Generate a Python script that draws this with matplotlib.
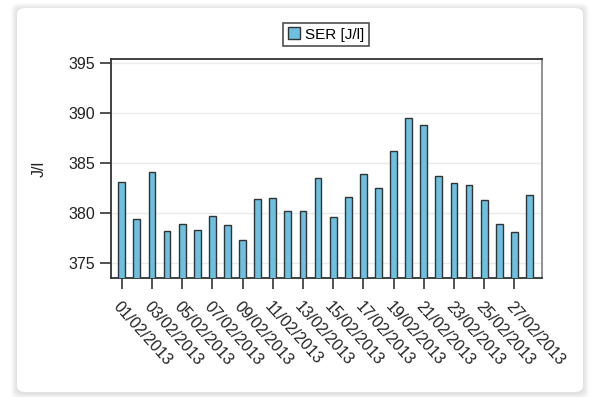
import matplotlib
matplotlib.use("Agg")
from matplotlib import pyplot as plt
from matplotlib.patches import FancyBboxPatch

plt.rcParams["font.family"] = ["Liberation Sans", "DejaVu Sans"]

days = list(range(1, 29))
values = [
    383.1, 379.4, 384.1, 378.2, 378.9, 378.3, 379.7, 378.8, 377.3, 381.4,
    381.5, 380.2, 380.2, 383.5, 379.6, 381.6, 383.9, 382.5, 386.2, 389.5,
    388.8, 383.7, 383.0, 382.8, 381.3, 378.9, 378.1, 381.8,
]
tick_days = list(range(1, 29, 2))
tick_labels = [f"{d:02d}/02/2013" for d in tick_days]
y_ticks = [375, 380, 385, 390, 395]

fig = plt.figure(figsize=(5.9, 3.97), dpi=100)
fig.patch.set_facecolor("white")

# card with a soft shadow behind the chart
for off in range(6, 0, -1):
    shadow = FancyBboxPatch(
        ((17 - off) / 590, (397 - 392 - off - 1) / 397),
        (566 + 2 * off) / 590, (384 + 2 * off) / 397,
        boxstyle="round,pad=0,rounding_size=0.015",
        transform=fig.transFigure, facecolor="black", edgecolor="none",
        alpha=0.018, zorder=0,
    )
    fig.patches.append(shadow)
card = FancyBboxPatch(
    (17 / 590, (397 - 392) / 397), 566 / 590, 384 / 397,
    boxstyle="round,pad=0,rounding_size=0.015",
    transform=fig.transFigure, facecolor="white", edgecolor="none", zorder=1,
)
fig.patches.append(card)

ax = fig.add_axes([0.1876, 0.2990, 0.7316, 0.5516])
ax.set_zorder(2)
ax.bar(days, values, width=0.45, color="#6cc0e0",
       edgecolor="#333333", linewidth=1.0, label="SER [J/l]", zorder=3)

ax.set_xlim(0.27, 28.85)
ax.set_ylim(373.45, 395.35)
ax.set_yticks(y_ticks)
ax.set_xticks(tick_days)
ax.set_xticklabels(tick_labels, rotation=-48, ha="left", va="top",
                   rotation_mode="anchor", fontsize=11.5)
ax.tick_params(axis="both", direction="out", length=8, width=1.2,
               color="#333333", labelsize=11.5, labelcolor="#222222")
ax.tick_params(axis="y", pad=3)
ax.tick_params(axis="x", pad=7)
ax.grid(axis="y", color="#ebebeb", linewidth=1.0, zorder=0)
ax.set_axisbelow(True)
for side in ["left", "bottom", "top"]:
    ax.spines[side].set_color("#333333")
    ax.spines[side].set_linewidth(1.3)
ax.spines["right"].set_color("#888888")
ax.spines["right"].set_linewidth(1.3)

ax.set_ylabel("J/l", fontsize=11.5, labelpad=16, color="#222222")

leg = fig.legend(loc="center", bbox_to_anchor=(0.5525, 0.913), fontsize=11,
                 frameon=True, fancybox=False, handlelength=0.8,
                 handleheight=0.8, handletextpad=0.3, borderpad=0.3,
                 borderaxespad=0)
leg.get_frame().set_edgecolor("#222222")
leg.get_frame().set_linewidth(1.2)

fig.savefig("out.png", dpi=100)
